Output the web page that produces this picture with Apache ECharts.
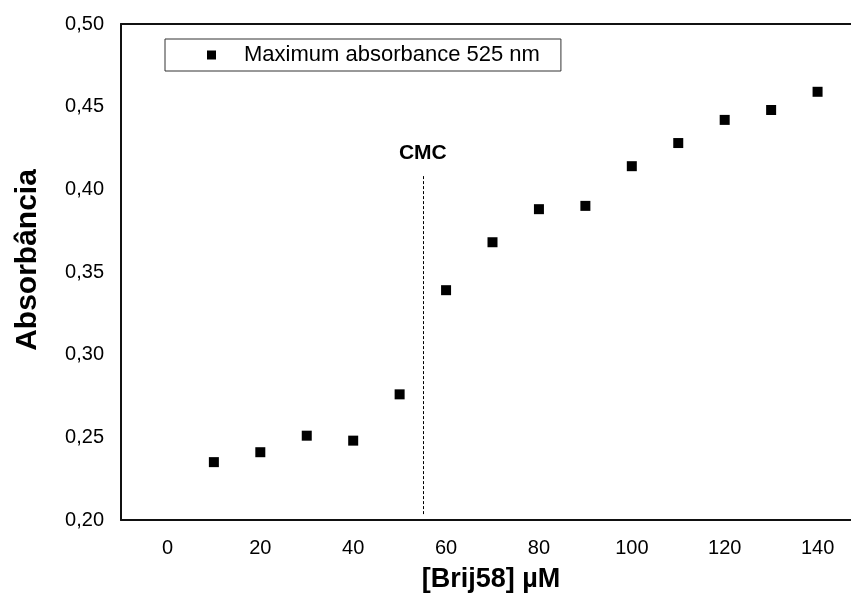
<!DOCTYPE html>
<html>
<head>
<meta charset="utf-8">
<script src="https://cdn.jsdelivr.net/npm/echarts@6/dist/echarts.min.js"></script>
<style>
  html, body { margin: 0; padding: 0; background: #fff; }
  #chart { width: 851px; height: 598px; }
</style>
</head>
<body>
<div id="chart"></div>
<script>
// Brij58 concentration (µM) and absorbance at 525 nm
var concentrations = [10, 20, 30, 40, 50, 60, 70, 80, 90, 100, 110, 120, 130, 140];
var absorbance = [0.235, 0.241, 0.251, 0.248, 0.276, 0.339, 0.368, 0.388, 0.390, 0.414, 0.428, 0.442, 0.448, 0.459];
var seriesName = 'Maximum absorbance 525 nm';
// critical micelle concentration marker
var cmcConc = 55;
var cmcLineTop = 0.408;
var cmcLineBottom = 0.203;

var points = concentrations.map(function (c, i) { return [c, absorbance[i]]; });
var font = 'Liberation Sans, Arial, sans-serif';
var axisColor = '#111';

// the frame runs past the right edge of the page, so the x range ends at ~147
var xMin = -10, xMax = 147.2;

var chart = echarts.init(document.getElementById('chart'));
chart.setOption({
  animation: false,
  backgroundColor: '#fff',
  grid: { left: 121, top: 24, right: 0, bottom: 76 },
  legend: {
    data: [{ name: seriesName, icon: 'rect' }],
    left: 165, top: 39,
    itemWidth: 9, itemHeight: 9,
    padding: [5, 21, 5, 42],
    borderColor: '#333', borderWidth: 1,
    textStyle: { fontFamily: font, fontSize: 22, color: '#000', padding: [0, 0, 0, 23] },
    selectedMode: false
  },
  xAxis: [{
    type: 'value', min: xMin, max: xMax, interval: 10,
    splitLine: { show: false },
    axisTick: { show: false },
    axisLine: { show: true, onZero: false, lineStyle: { color: axisColor, width: 2 } },
    axisLabel: {
      fontFamily: font, fontSize: 20, color: '#000', margin: 18,
      showMaxLabel: false,
      formatter: function (v) { return (Math.round(v) % 20 === 0) ? String(Math.round(v)) : ''; }
    },
    name: '[Brij58] µM', nameLocation: 'middle', nameGap: 46,
    nameTextStyle: { fontFamily: font, fontSize: 27, fontWeight: 'bold', color: '#000', padding: [0, 0, 0, 10] }
  }, {
    // top edge of the frame
    type: 'value', position: 'top', min: xMin, max: xMax, interval: 10,
    splitLine: { show: false },
    axisTick: { show: false },
    axisLabel: { show: false },
    axisLine: { show: true, onZero: false, lineStyle: { color: axisColor, width: 2 } }
  }],
  yAxis: {
    type: 'value', min: 0.2, max: 0.5, interval: 0.05,
    splitLine: { show: false },
    axisTick: { show: false },
    axisLine: { show: true, onZero: false, lineStyle: { color: axisColor, width: 2 } },
    axisLabel: {
      fontFamily: font, fontSize: 20, color: '#000', margin: 17,
      formatter: function (v) { return v.toFixed(2).replace('.', ','); }
    },
    name: 'Absorbância', nameLocation: 'middle', nameGap: 78,
    nameTextStyle: { fontFamily: font, fontSize: 30, fontWeight: 'bold', color: '#000', padding: [0, 0, 0, 24] }
  },
  series: [{
    name: seriesName,
    type: 'scatter',
    symbol: 'rect',
    symbolSize: 10,
    itemStyle: { color: '#000', opacity: 1 },
    data: points,
    markLine: {
      silent: true,
      symbol: ['none', 'none'],
      lineStyle: { color: '#000', type: [3, 2], width: 1 },
      label: { show: true, position: 'start', formatter: 'CMC', fontFamily: font, fontSize: 21, fontWeight: 'bold', color: '#000', distance: 12 },
      data: [[{ coord: [cmcConc, cmcLineTop] }, { coord: [cmcConc, cmcLineBottom] }]]
    }
  }]
});
</script>
</body>
</html>
